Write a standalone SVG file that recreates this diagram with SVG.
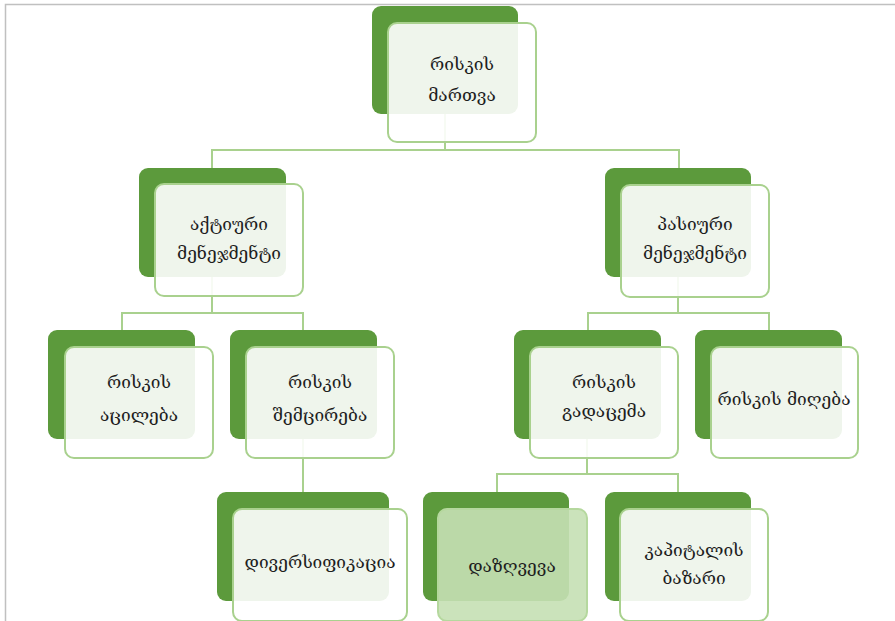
<svg xmlns="http://www.w3.org/2000/svg" width="895" height="621" viewBox="0 0 895 621">
<style>
.dark{fill:#5c9a3c}
.light{fill:#ffffff;fill-opacity:0.9;stroke:#a9d18e;stroke-width:2}
.hl{fill:#c5e0b4;fill-opacity:0.9;stroke:#b5d89e;stroke-width:2}
.conn line{stroke:#a9d18e;stroke-width:2}
text{font-family:"DejaVu Serif","DejaVu Sans",serif;font-size:17.3px;fill:#1e1e1e;text-anchor:middle}
</style>
<rect x="0" y="0" width="895" height="621" fill="#ffffff"/>
<path d="M5.5 621 V4.5 H895" fill="none" stroke="#c0c0c0" stroke-width="1.5"/>
<g id="connectors" class="conn">
<line x1="445" y1="114" x2="445" y2="150"/>
<line x1="211" y1="150" x2="680" y2="150"/>
<line x1="212" y1="150" x2="212" y2="168"/>
<line x1="679" y1="150" x2="679" y2="168"/>
<line x1="212" y1="277" x2="212" y2="313"/>
<line x1="121" y1="313" x2="304" y2="313"/>
<line x1="122" y1="313" x2="122" y2="330"/>
<line x1="303" y1="313" x2="303" y2="330"/>
<line x1="678" y1="277" x2="678" y2="313"/>
<line x1="587" y1="313" x2="770" y2="313"/>
<line x1="588" y1="313" x2="588" y2="330"/>
<line x1="769" y1="313" x2="769" y2="330"/>
<line x1="303" y1="439" x2="303" y2="492"/>
<line x1="587" y1="439" x2="587" y2="474"/>
<line x1="496" y1="474" x2="679" y2="474"/>
<line x1="497" y1="474" x2="497" y2="492"/>
<line x1="678" y1="474" x2="678" y2="492"/>
</g>
<g id="n-risk-management">
<rect class="dark" x="372" y="6" width="146" height="108" rx="9"/>
<rect class="light" x="388" y="23" width="148" height="119" rx="9"/>
<text x="462" y="70">რისკის</text>
<text x="462" y="101">მართვა</text>
</g>
<g id="n-active">
<rect class="dark" x="139" y="168" width="147" height="109" rx="9"/>
<rect class="light" x="155" y="184" width="148" height="112" rx="9"/>
<text x="229" y="230">აქტიური</text>
<text x="229" y="259">მენეჯმენტი</text>
</g>
<g id="n-passive">
<rect class="dark" x="605" y="168" width="146" height="109" rx="9"/>
<rect class="light" x="621" y="185" width="148" height="112" rx="9"/>
<text x="695" y="230">პასიური</text>
<text x="695" y="259">მენეჯმენტი</text>
</g>
<g id="n-avoid">
<rect class="dark" x="48" y="330" width="147" height="109" rx="9"/>
<rect class="light" x="65" y="347" width="148" height="111" rx="9"/>
<text x="139" y="388">რისკის</text>
<text x="139" y="421">აცილება</text>
</g>
<g id="n-reduce">
<rect class="dark" x="230" y="330" width="147" height="109" rx="9"/>
<rect class="light" x="246" y="347" width="148" height="111" rx="9"/>
<text x="320" y="388">რისკის</text>
<text x="320" y="421">შემცირება</text>
</g>
<g id="n-transfer">
<rect class="dark" x="514" y="330" width="147" height="109" rx="9"/>
<rect class="light" x="530" y="347" width="148" height="111" rx="9"/>
<text x="604" y="388">რისკის</text>
<text x="604" y="417">გადაცემა</text>
</g>
<g id="n-accept">
<rect class="dark" x="695" y="330" width="147" height="109" rx="9"/>
<rect class="light" x="711" y="347" width="147" height="111" rx="9"/>
<text x="784" y="405">რისკის მიღება</text>
</g>
<g id="n-diversify">
<rect class="dark" x="217" y="492" width="172" height="109" rx="9"/>
<rect class="light" x="233" y="509" width="174" height="112" rx="9"/>
<text x="320" y="568">დივერსიფიკაცია</text>
</g>
<g id="n-insurance">
<rect class="dark" x="423" y="492" width="146" height="109" rx="9"/>
<rect class="hl" x="438" y="509" width="149" height="112" rx="9"/>
<text x="512" y="572">დაზღვევა</text>
</g>
<g id="n-capital-market">
<rect class="dark" x="605" y="492" width="146" height="109" rx="9"/>
<rect class="light" x="620" y="509" width="148" height="112" rx="9"/>
<text x="694" y="556">კაპიტალის</text>
<text x="694" y="584">ბაზარი</text>
</g>
</svg>
